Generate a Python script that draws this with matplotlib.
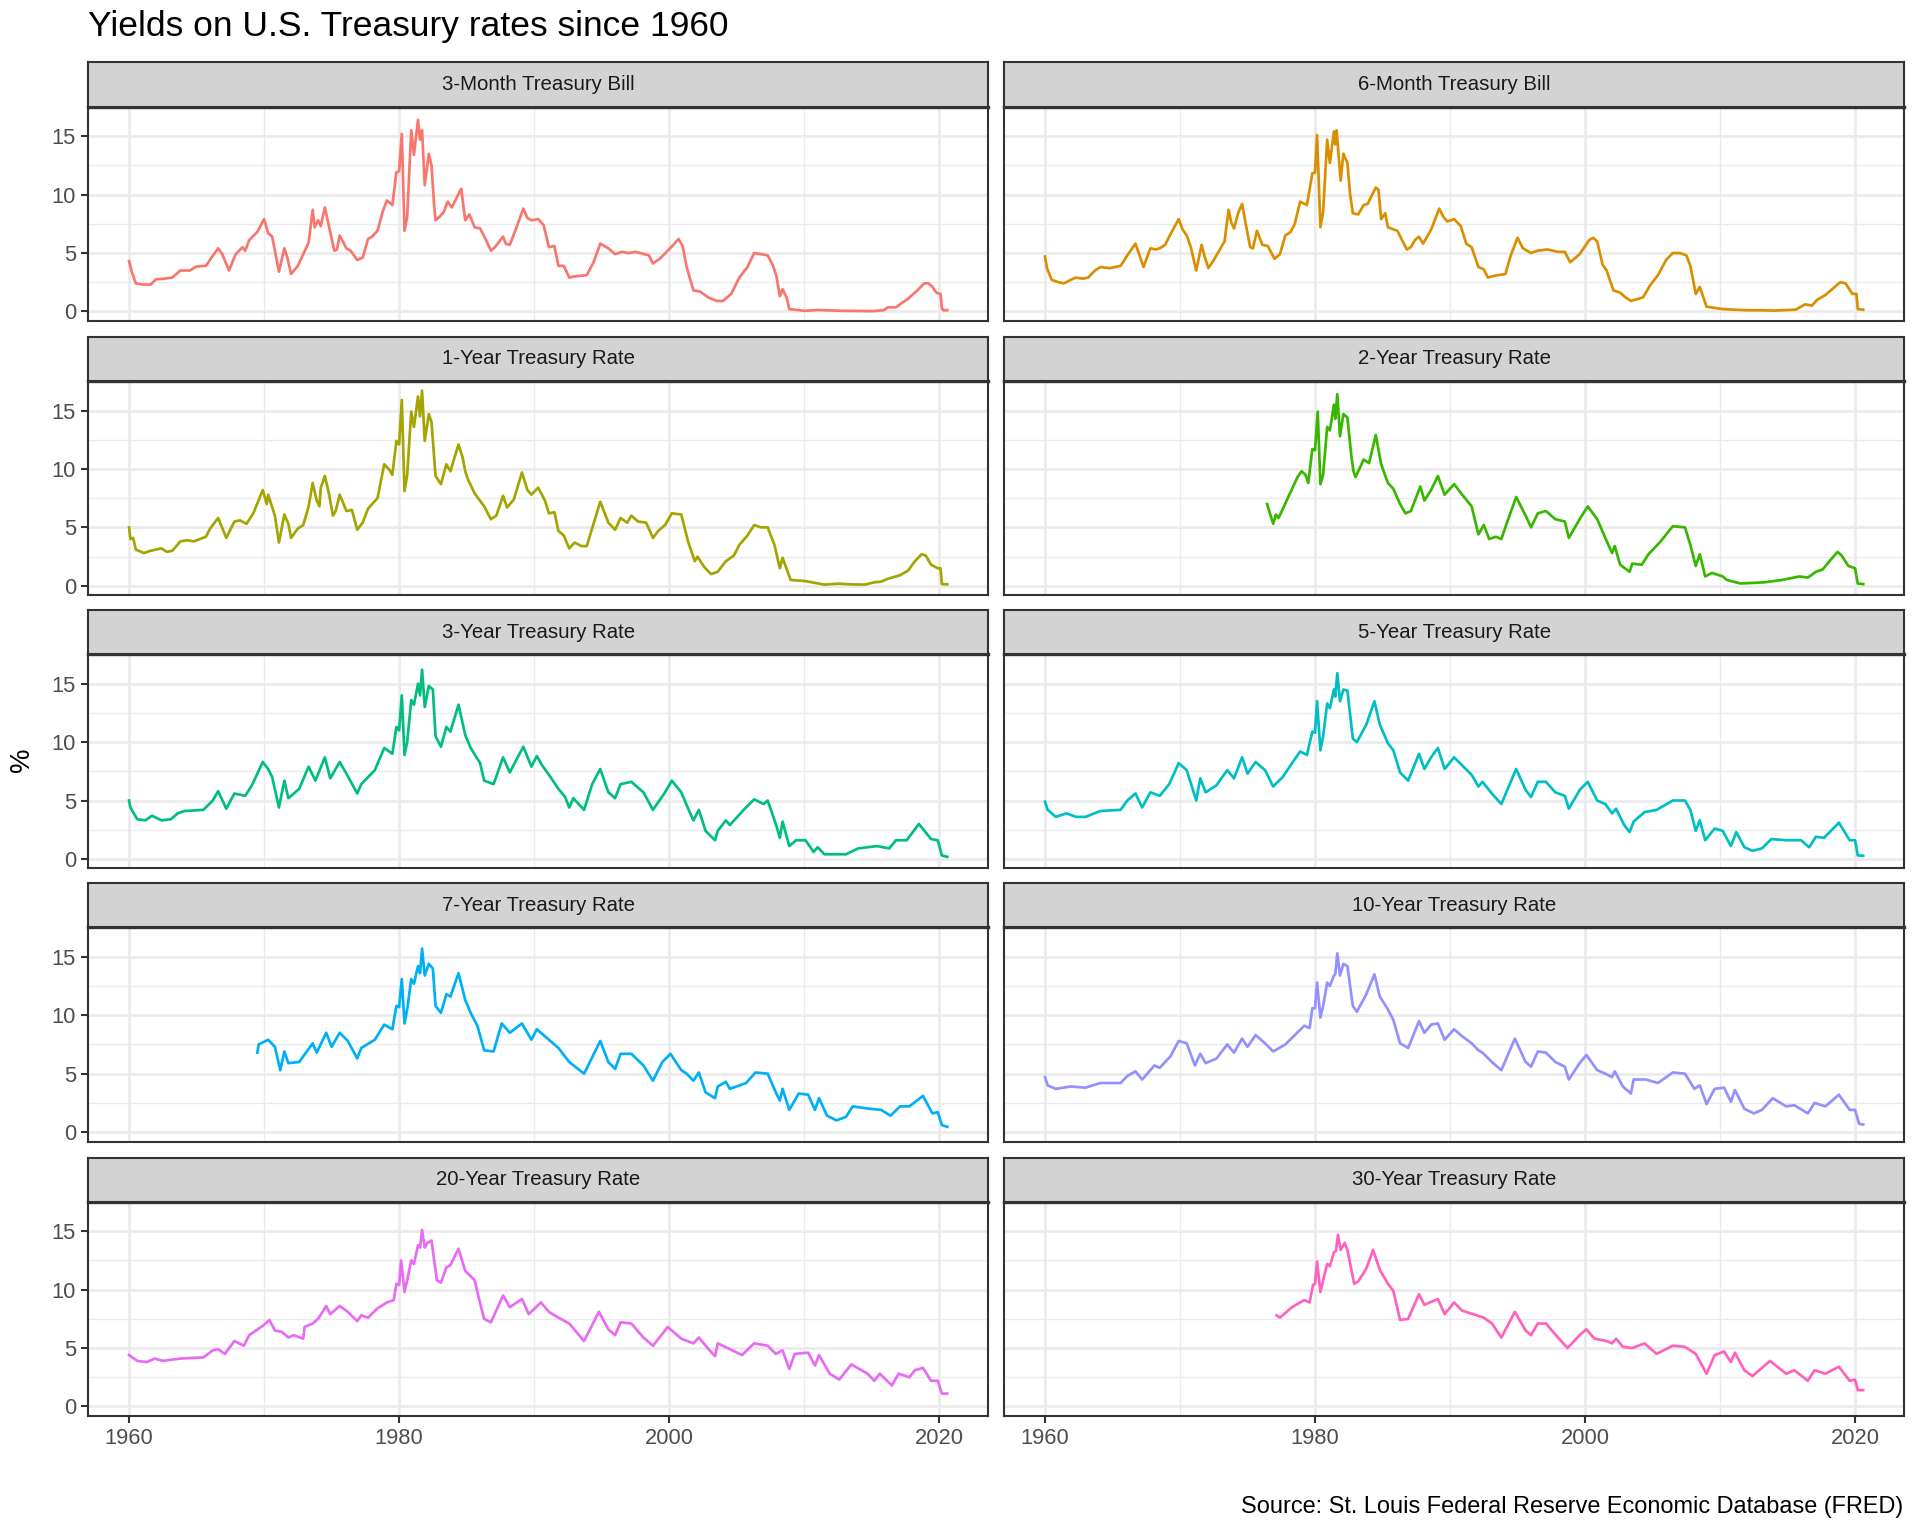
import matplotlib
matplotlib.use("Agg")
import matplotlib.pyplot as plt

plt.rcParams['font.family'] = ['Liberation Sans', 'DejaVu Sans']

# (decimal year, yield %), mostly at turning points
bill_3m = [(1960.0, 4.3), (1960.2, 3.4), (1960.5, 2.4), (1961.0, 2.3), (1961.6, 2.3), (1962.0, 2.75),
           (1962.6, 2.8), (1963.2, 2.9), (1963.8, 3.5), (1964.5, 3.5), (1965.0, 3.85), (1965.7, 3.9),
           (1966.1, 4.6), (1966.6, 5.4), (1966.9, 4.9), (1967.4, 3.5), (1967.9, 4.9), (1968.4, 5.5),
           (1968.6, 5.2), (1968.9, 6.1), (1969.5, 6.8), (1970.0, 7.9), (1970.3, 6.7), (1970.6, 6.4),
           (1971.1, 3.4), (1971.5, 5.4), (1971.7, 4.7), (1972.0, 3.2), (1972.5, 3.9), (1972.9, 4.9),
           (1973.3, 5.9), (1973.6, 8.7), (1973.75, 7.2), (1974.0, 7.8), (1974.2, 7.3), (1974.5, 8.9),
           (1974.8, 7.3), (1975.2, 5.2), (1975.4, 5.3), (1975.6, 6.5), (1976.1, 5.4), (1976.4, 5.2),
           (1976.9, 4.4), (1977.3, 4.6), (1977.7, 6.2), (1978.0, 6.4), (1978.4, 6.9), (1978.8, 8.6),
           (1979.1, 9.5), (1979.5, 9.1), (1979.8, 11.9), (1980.0, 12.0), (1980.2, 15.2), (1980.4, 6.9),
           (1980.6, 8.1), (1980.9, 15.5), (1981.1, 13.4), (1981.4, 16.4), (1981.55, 14.7), (1981.7, 15.5),
           (1981.9, 10.8), (1982.2, 13.5), (1982.4, 12.5), (1982.6, 9.0), (1982.7, 7.8), (1983.0, 8.1),
           (1983.3, 8.5), (1983.6, 9.4), (1983.9, 8.9), (1984.2, 9.6), (1984.6, 10.5), (1984.9, 7.8),
           (1985.2, 8.3), (1985.6, 7.2), (1986.0, 7.1), (1986.4, 6.2), (1986.8, 5.2), (1987.1, 5.5),
           (1987.7, 6.4), (1987.9, 5.8), (1988.2, 5.7), (1988.7, 7.2), (1989.2, 8.8), (1989.5, 8.0),
           (1989.8, 7.8), (1990.3, 7.9), (1990.7, 7.4), (1991.1, 5.5), (1991.5, 5.6), (1991.8, 3.9),
           (1992.2, 3.9), (1992.6, 2.9), (1993.0, 3.0), (1993.9, 3.1), (1994.4, 4.2), (1994.9, 5.8),
           (1995.5, 5.4), (1996.0, 4.9), (1996.5, 5.1), (1997.0, 5.0), (1997.5, 5.1), (1998.5, 4.8),
           (1998.8, 4.1), (1999.3, 4.5), (1999.9, 5.2), (2000.4, 5.8), (2000.7, 6.2), (2001.0, 5.6),
           (2001.3, 3.8), (2001.8, 1.8), (2002.3, 1.7), (2002.9, 1.2), (2003.5, 0.9), (2004.0, 0.9),
           (2004.6, 1.5), (2005.2, 2.9), (2005.8, 3.8), (2006.3, 5.0), (2006.8, 4.9), (2007.3, 4.8),
           (2007.7, 3.9), (2007.95, 3.0), (2008.2, 1.3), (2008.4, 1.9), (2008.7, 1.2), (2008.9, 0.2),
           (2009.3, 0.15), (2010.0, 0.05), (2011.0, 0.12), (2012.0, 0.08), (2013.0, 0.05), (2014.0, 0.04),
           (2015.0, 0.02), (2015.9, 0.1), (2016.2, 0.35), (2016.8, 0.35), (2017.2, 0.7), (2017.6, 1.0),
           (2017.9, 1.3), (2018.3, 1.7), (2018.9, 2.4), (2019.2, 2.4), (2019.5, 2.1), (2019.8, 1.6),
           (2020.1, 1.5), (2020.2, 0.3), (2020.3, 0.1), (2020.6, 0.1)]

bill_6m = [(1960.0, 4.7), (1960.15, 3.7), (1960.5, 2.7), (1961.0, 2.5), (1961.4, 2.4), (1961.9, 2.7),
           (1962.3, 2.9), (1962.8, 2.8), (1963.2, 2.9), (1963.7, 3.5), (1964.1, 3.8), (1964.8, 3.7),
           (1965.6, 3.9), (1966.1, 4.8), (1966.7, 5.8), (1967.3, 3.8), (1967.8, 5.4), (1968.2, 5.3),
           (1968.5, 5.4), (1968.9, 5.7), (1969.2, 6.4), (1969.9, 7.9), (1970.2, 7.0), (1970.5, 6.5),
           (1970.8, 5.5), (1971.2, 3.5), (1971.6, 5.7), (1971.8, 4.8), (1972.1, 3.7), (1972.5, 4.4),
           (1972.9, 5.2), (1973.3, 6.0), (1973.6, 8.7), (1973.8, 7.6), (1974.0, 7.1), (1974.3, 8.4),
           (1974.6, 9.2), (1974.9, 7.3), (1975.2, 5.5), (1975.4, 5.4), (1975.7, 6.9), (1976.1, 5.7),
           (1976.5, 5.6), (1977.0, 4.5), (1977.4, 4.9), (1977.8, 6.5), (1978.2, 6.8), (1978.5, 7.5),
           (1978.9, 9.4), (1979.4, 9.1), (1979.8, 11.8), (1980.0, 11.9), (1980.15, 15.1), (1980.4, 7.2),
           (1980.6, 8.5), (1980.9, 14.7), (1981.1, 12.7), (1981.4, 15.4), (1981.5, 14.3), (1981.6, 15.5),
           (1981.9, 11.2), (1982.1, 13.5), (1982.4, 12.7), (1982.6, 10.0), (1982.8, 8.4), (1983.2, 8.3),
           (1983.6, 9.1), (1983.9, 9.2), (1984.5, 10.6), (1984.7, 10.4), (1984.9, 7.9), (1985.2, 8.4),
           (1985.4, 7.2), (1986.1, 6.9), (1986.8, 5.3), (1987.1, 5.5), (1987.4, 6.1), (1987.7, 6.4),
           (1988.0, 5.8), (1988.6, 7.0), (1989.2, 8.8), (1989.5, 8.1), (1989.8, 7.7), (1990.3, 7.9),
           (1990.8, 7.3), (1991.2, 5.8), (1991.6, 5.5), (1992.1, 3.8), (1992.5, 3.6), (1992.8, 2.9),
           (1993.5, 3.1), (1994.1, 3.2), (1994.5, 4.8), (1995.0, 6.3), (1995.4, 5.4), (1996.0, 5.0),
           (1996.5, 5.2), (1997.2, 5.3), (1998.0, 5.1), (1998.5, 5.1), (1998.9, 4.2), (1999.6, 4.9),
           (2000.3, 6.1), (2000.6, 6.3), (2000.9, 6.0), (2001.3, 4.0), (2001.6, 3.5), (2002.1, 1.8),
           (2002.6, 1.6), (2003.0, 1.2), (2003.4, 0.9), (2004.3, 1.2), (2004.8, 2.2), (2005.4, 3.1),
           (2006.0, 4.4), (2006.5, 5.0), (2007.0, 5.0), (2007.5, 4.8), (2007.8, 3.9), (2008.2, 1.5),
           (2008.5, 2.1), (2009.0, 0.4), (2010.2, 0.2), (2011.0, 0.15), (2012.0, 0.1), (2013.0, 0.1),
           (2014.0, 0.07), (2015.6, 0.15), (2016.3, 0.6), (2016.8, 0.5), (2017.2, 1.0), (2017.8, 1.4),
           (2018.3, 1.9), (2018.9, 2.5), (2019.3, 2.4), (2019.8, 1.5), (2020.1, 1.5), (2020.2, 0.2),
           (2020.6, 0.15)]

rate_1y = [(1960.0, 5.0), (1960.1, 4.0), (1960.3, 4.1), (1960.5, 3.1), (1961.1, 2.8), (1961.6, 3.0),
           (1962.0, 3.1), (1962.4, 3.2), (1962.8, 2.9), (1963.2, 3.0), (1963.8, 3.8), (1964.3, 3.9),
           (1964.8, 3.8), (1965.7, 4.2), (1966.0, 4.9), (1966.6, 5.8), (1967.2, 4.1), (1967.8, 5.5),
           (1968.2, 5.6), (1968.7, 5.3), (1969.2, 6.2), (1969.9, 8.2), (1970.2, 7.0), (1970.3, 7.8),
           (1970.8, 6.0), (1971.1, 3.7), (1971.5, 6.1), (1971.8, 5.3), (1972.0, 4.1), (1972.5, 4.9),
           (1972.9, 5.2), (1973.3, 6.8), (1973.6, 8.8), (1973.9, 7.3), (1974.1, 6.8), (1974.2, 8.4),
           (1974.5, 9.4), (1974.8, 7.9), (1975.1, 6.0), (1975.3, 6.4), (1975.6, 7.8), (1976.1, 6.4),
           (1976.5, 6.5), (1976.9, 4.8), (1977.3, 5.4), (1977.7, 6.6), (1978.4, 7.5), (1978.9, 10.4),
           (1979.3, 9.9), (1979.5, 9.5), (1979.8, 12.4), (1980.0, 12.1), (1980.2, 15.9), (1980.4, 8.1),
           (1980.6, 9.5), (1980.9, 14.9), (1981.1, 13.6), (1981.4, 16.2), (1981.55, 14.5), (1981.7, 16.7),
           (1981.9, 12.4), (1982.2, 14.7), (1982.4, 14.0), (1982.7, 9.4), (1983.1, 8.7), (1983.5, 10.4),
           (1983.8, 9.8), (1984.4, 12.1), (1984.7, 11.0), (1984.9, 9.8), (1985.1, 9.1), (1985.6, 7.9),
           (1986.3, 6.8), (1986.8, 5.7), (1987.2, 6.0), (1987.7, 7.7), (1988.0, 6.7), (1988.5, 7.4),
           (1989.1, 9.7), (1989.5, 8.2), (1989.8, 7.8), (1990.3, 8.4), (1990.8, 7.3), (1991.1, 6.2),
           (1991.5, 6.3), (1991.8, 4.7), (1992.2, 4.3), (1992.6, 3.2), (1993.0, 3.7), (1993.5, 3.4),
           (1993.9, 3.4), (1994.4, 5.3), (1994.9, 7.2), (1995.5, 5.4), (1996.0, 4.8), (1996.4, 5.8),
           (1996.9, 5.4), (1997.2, 6.0), (1997.7, 5.5), (1998.3, 5.4), (1998.8, 4.1), (1999.2, 4.7),
           (1999.7, 5.2), (2000.2, 6.2), (2000.9, 6.1), (2001.4, 3.8), (2001.9, 2.1), (2002.1, 2.5),
           (2002.6, 1.6), (2003.1, 1.0), (2003.6, 1.2), (2004.2, 2.1), (2004.8, 2.6), (2005.2, 3.5),
           (2005.8, 4.3), (2006.3, 5.2), (2006.8, 5.0), (2007.3, 5.0), (2007.8, 3.5), (2008.2, 1.5),
           (2008.4, 2.4), (2009.0, 0.5), (2010.1, 0.4), (2010.8, 0.25), (2011.5, 0.1), (2012.5, 0.18),
           (2013.5, 0.12), (2014.5, 0.1), (2015.2, 0.3), (2015.7, 0.35), (2016.2, 0.6), (2017.1, 0.9),
           (2017.7, 1.3), (2018.2, 2.1), (2018.7, 2.7), (2019.0, 2.6), (2019.4, 1.8), (2019.9, 1.5),
           (2020.1, 1.5), (2020.2, 0.15), (2020.6, 0.12)]

rate_2y = [(1976.45, 7.0), (1976.9, 5.3), (1977.1, 6.1), (1977.3, 5.8), (1977.9, 7.3), (1978.3, 8.3),
           (1978.7, 9.3), (1979.0, 9.8), (1979.3, 9.5), (1979.5, 8.8), (1979.8, 11.7), (1980.0, 11.6),
           (1980.2, 14.9), (1980.4, 8.7), (1980.6, 9.5), (1980.9, 13.6), (1981.1, 13.3), (1981.4, 15.5),
           (1981.5, 14.3), (1981.65, 16.4), (1981.85, 12.8), (1982.1, 14.7), (1982.4, 14.4), (1982.7, 11.0),
           (1982.85, 9.8), (1983.0, 9.3), (1983.6, 10.8), (1984.0, 10.5), (1984.5, 12.9), (1984.9, 10.4),
           (1985.4, 8.8), (1985.8, 8.3), (1986.3, 7.0), (1986.7, 6.2), (1987.1, 6.4), (1987.8, 8.5),
           (1988.1, 7.3), (1988.6, 8.2), (1989.1, 9.4), (1989.6, 7.8), (1990.3, 8.7), (1990.9, 7.8),
           (1991.6, 6.8), (1992.1, 4.4), (1992.5, 5.2), (1992.9, 4.0), (1993.4, 4.2), (1993.8, 4.0),
           (1994.4, 6.0), (1994.9, 7.6), (1995.6, 6.0), (1996.0, 5.0), (1996.5, 6.2), (1997.1, 6.4),
           (1997.8, 5.7), (1998.5, 5.5), (1998.8, 4.1), (1999.2, 4.9), (1999.6, 5.7), (2000.2, 6.8),
           (2000.9, 5.7), (2001.5, 4.1), (2002.0, 2.8), (2002.2, 3.4), (2002.6, 1.8), (2003.3, 1.2),
           (2003.5, 1.9), (2004.2, 1.8), (2004.7, 2.7), (2005.6, 3.8), (2006.5, 5.1), (2007.4, 5.0),
           (2007.8, 3.5), (2008.2, 1.7), (2008.5, 2.7), (2008.9, 0.8), (2009.4, 1.1), (2010.2, 0.8),
           (2010.5, 0.5), (2011.5, 0.2), (2012.5, 0.25), (2013.3, 0.3), (2014.6, 0.5), (2015.9, 0.8),
           (2016.5, 0.7), (2017.1, 1.2), (2017.6, 1.4), (2018.1, 2.1), (2018.7, 2.9), (2019.0, 2.6),
           (2019.5, 1.7), (2020.0, 1.5), (2020.2, 0.2), (2020.6, 0.14)]

rate_3y = [(1960.0, 5.0), (1960.1, 4.4), (1960.6, 3.4), (1961.2, 3.3), (1961.7, 3.7), (1962.4, 3.3),
           (1963.1, 3.4), (1963.6, 3.9), (1964.1, 4.1), (1965.5, 4.2), (1966.2, 5.0), (1966.6, 5.8),
           (1967.2, 4.3), (1967.8, 5.6), (1968.6, 5.4), (1969.1, 6.3), (1969.9, 8.3), (1970.3, 7.7),
           (1970.6, 7.0), (1971.1, 4.4), (1971.5, 6.7), (1971.8, 5.2), (1972.6, 6.0), (1973.3, 7.9),
           (1973.8, 6.7), (1974.5, 8.7), (1974.9, 6.9), (1975.6, 8.3), (1976.1, 7.3), (1976.9, 5.6),
           (1977.2, 6.4), (1978.2, 7.6), (1978.9, 9.5), (1979.5, 9.0), (1979.8, 11.3), (1980.0, 11.0),
           (1980.2, 14.0), (1980.4, 8.9), (1980.6, 10.0), (1980.9, 13.6), (1981.1, 13.2), (1981.4, 15.0),
           (1981.55, 14.0), (1981.7, 16.2), (1981.9, 13.0), (1982.2, 14.8), (1982.5, 14.5), (1982.7, 10.5),
           (1983.1, 9.6), (1983.5, 11.3), (1983.8, 10.9), (1984.4, 13.2), (1984.9, 10.6), (1985.3, 9.5),
           (1986.0, 8.2), (1986.3, 6.7), (1987.0, 6.4), (1987.7, 8.7), (1988.2, 7.4), (1988.6, 8.3),
           (1989.2, 9.6), (1989.8, 7.9), (1990.2, 8.8), (1990.6, 8.0), (1991.1, 7.2), (1991.8, 6.0),
           (1992.3, 5.3), (1992.6, 4.4), (1992.9, 5.2), (1993.7, 4.2), (1994.3, 6.4), (1994.9, 7.7),
           (1995.5, 5.7), (1996.0, 5.2), (1996.4, 6.4), (1997.2, 6.6), (1998.1, 5.7), (1998.8, 4.2),
           (1999.7, 5.7), (2000.2, 6.7), (2000.9, 5.7), (2001.3, 4.6), (2001.8, 3.3), (2002.2, 4.2),
           (2002.7, 2.4), (2003.4, 1.6), (2003.6, 2.4), (2004.2, 3.3), (2004.5, 2.9), (2005.6, 4.3),
           (2006.3, 5.1), (2007.0, 4.7), (2007.3, 5.0), (2007.9, 3.0), (2008.2, 1.8), (2008.4, 3.2),
           (2008.9, 1.1), (2009.4, 1.6), (2010.1, 1.6), (2010.7, 0.6), (2011.0, 1.0), (2011.5, 0.4),
           (2013.1, 0.4), (2014.0, 0.9), (2015.4, 1.1), (2016.3, 0.9), (2016.8, 1.6), (2017.6, 1.6),
           (2018.5, 3.0), (2019.4, 1.7), (2019.9, 1.6), (2020.2, 0.3), (2020.6, 0.18)]

rate_5y = [(1960.0, 4.9), (1960.2, 4.2), (1960.8, 3.6), (1961.6, 3.9), (1962.3, 3.6), (1963.0, 3.6),
           (1964.1, 4.1), (1965.6, 4.2), (1966.1, 5.0), (1966.7, 5.6), (1967.2, 4.4), (1967.8, 5.7),
           (1968.5, 5.4), (1969.2, 6.4), (1969.9, 8.2), (1970.5, 7.6), (1971.2, 5.0), (1971.5, 6.9),
           (1971.9, 5.7), (1972.7, 6.3), (1973.5, 7.6), (1974.0, 6.9), (1974.6, 8.7), (1975.0, 7.3),
           (1975.6, 8.3), (1976.3, 7.6), (1976.9, 6.2), (1977.6, 7.0), (1978.3, 8.2), (1978.9, 9.2),
           (1979.4, 8.9), (1979.8, 10.9), (1980.0, 10.8), (1980.15, 13.5), (1980.4, 9.3), (1980.6, 10.5),
           (1980.9, 13.3), (1981.1, 12.9), (1981.4, 14.5), (1981.5, 13.9), (1981.65, 15.9), (1981.85, 13.5),
           (1982.1, 14.5), (1982.4, 14.4), (1982.8, 10.3), (1983.1, 10.0), (1983.8, 11.5), (1984.4, 13.5),
           (1984.8, 11.5), (1985.4, 9.9), (1985.8, 9.3), (1986.3, 7.4), (1986.9, 6.7), (1987.7, 9.0),
           (1988.1, 7.7), (1988.6, 8.7), (1989.1, 9.5), (1989.6, 7.7), (1990.3, 8.7), (1990.9, 8.0),
           (1991.6, 7.2), (1992.1, 6.2), (1992.4, 6.6), (1993.1, 5.6), (1993.8, 4.7), (1994.9, 7.7),
           (1995.6, 5.9), (1996.0, 5.3), (1996.5, 6.6), (1997.1, 6.6), (1997.8, 5.7), (1998.5, 5.4),
           (1998.8, 4.3), (1999.6, 5.9), (2000.2, 6.6), (2000.9, 5.0), (2001.5, 4.7), (2002.0, 3.9),
           (2002.3, 4.3), (2002.9, 2.9), (2003.3, 2.3), (2003.6, 3.2), (2004.4, 4.0), (2005.3, 4.2),
           (2006.5, 5.0), (2007.4, 5.0), (2007.8, 4.2), (2008.2, 2.4), (2008.5, 3.3), (2008.9, 1.6),
           (2009.6, 2.6), (2010.2, 2.4), (2010.8, 1.1), (2011.2, 2.3), (2011.8, 1.0), (2012.4, 0.7),
           (2013.1, 0.9), (2013.8, 1.7), (2014.9, 1.6), (2016.0, 1.6), (2016.6, 1.0), (2017.1, 1.9),
           (2017.7, 1.8), (2018.8, 3.1), (2019.6, 1.6), (2020.0, 1.6), (2020.2, 0.3), (2020.6, 0.28)]

rate_7y = [(1969.5, 6.8), (1969.6, 7.5), (1970.3, 7.9), (1970.8, 7.3), (1971.2, 5.3), (1971.5, 6.9),
           (1971.8, 5.9), (1972.6, 6.0), (1973.6, 7.6), (1973.9, 6.8), (1974.6, 8.5), (1975.0, 7.3),
           (1975.6, 8.5), (1976.2, 7.8), (1976.9, 6.3), (1977.2, 7.2), (1978.2, 7.9), (1978.9, 9.2),
           (1979.5, 8.8), (1979.8, 10.8), (1980.0, 10.7), (1980.2, 13.1), (1980.4, 9.3), (1980.6, 10.5),
           (1980.9, 13.1), (1981.1, 12.7), (1981.4, 14.2), (1981.55, 13.6), (1981.7, 15.7), (1981.9, 13.4),
           (1982.2, 14.4), (1982.5, 14.0), (1982.7, 10.8), (1983.1, 10.2), (1983.5, 11.8), (1983.8, 11.6),
           (1984.4, 13.6), (1984.9, 11.3), (1985.3, 10.2), (1985.8, 9.1), (1986.3, 7.0), (1987.0, 6.9),
           (1987.6, 9.3), (1988.2, 8.5), (1989.1, 9.3), (1989.8, 7.9), (1990.2, 8.8), (1991.1, 7.9),
           (1991.8, 7.2), (1992.6, 6.0), (1993.7, 5.0), (1994.9, 7.8), (1995.5, 6.0), (1996.0, 5.4),
           (1996.4, 6.7), (1997.2, 6.7), (1998.1, 5.7), (1998.8, 4.4), (1999.5, 6.0), (2000.1, 6.7),
           (2000.9, 5.3), (2001.3, 5.0), (2001.8, 4.4), (2002.2, 5.1), (2002.7, 3.4), (2003.4, 2.9),
           (2003.6, 3.9), (2004.2, 4.3), (2004.5, 3.7), (2005.7, 4.2), (2006.4, 5.1), (2007.3, 5.0),
           (2007.9, 3.4), (2008.2, 2.7), (2008.4, 3.7), (2008.9, 1.9), (2009.6, 3.3), (2010.3, 3.2),
           (2010.8, 1.9), (2011.1, 2.9), (2011.7, 1.4), (2012.4, 1.0), (2013.1, 1.3), (2013.6, 2.2),
           (2014.8, 2.0), (2015.7, 1.9), (2016.4, 1.4), (2017.1, 2.2), (2017.8, 2.2), (2018.8, 3.1),
           (2019.5, 1.6), (2019.9, 1.7), (2020.2, 0.6), (2020.6, 0.45)]

rate_10y = [(1960.0, 4.7), (1960.2, 4.0), (1960.8, 3.7), (1961.9, 3.9), (1963.0, 3.8), (1964.1, 4.2),
            (1965.6, 4.2), (1966.1, 4.8), (1966.7, 5.2), (1967.2, 4.5), (1968.1, 5.7), (1968.5, 5.5),
            (1969.3, 6.5), (1969.9, 7.8), (1970.5, 7.6), (1971.1, 5.7), (1971.5, 6.7), (1971.9, 5.9),
            (1972.7, 6.3), (1973.5, 7.5), (1974.0, 6.8), (1974.6, 8.0), (1975.0, 7.3), (1975.6, 8.3),
            (1976.3, 7.6), (1976.9, 6.9), (1977.8, 7.5), (1978.5, 8.3), (1979.2, 9.1), (1979.6, 8.9),
            (1979.8, 10.6), (1980.0, 10.6), (1980.15, 12.8), (1980.4, 9.8), (1980.6, 10.8), (1980.9, 12.8),
            (1981.1, 12.5), (1981.4, 13.4), (1981.5, 13.5), (1981.65, 15.3), (1981.85, 13.4), (1982.1, 14.4),
            (1982.4, 14.2), (1982.8, 10.8), (1983.1, 10.3), (1983.8, 11.8), (1984.4, 13.5), (1984.8, 11.6),
            (1985.4, 10.5), (1985.8, 9.6), (1986.3, 7.6), (1986.9, 7.2), (1987.7, 9.5), (1988.1, 8.5),
            (1988.6, 9.2), (1989.1, 9.3), (1989.6, 7.9), (1990.3, 8.8), (1990.9, 8.2), (1991.6, 7.6),
            (1992.1, 7.0), (1992.4, 6.8), (1993.1, 6.0), (1993.8, 5.3), (1994.8, 8.0), (1995.6, 6.0),
            (1996.0, 5.6), (1996.5, 6.9), (1997.1, 6.8), (1997.8, 6.0), (1998.5, 5.6), (1998.8, 4.5),
            (1999.6, 5.9), (2000.1, 6.6), (2000.9, 5.3), (2001.5, 5.0), (2002.0, 4.7), (2002.2, 5.2),
            (2002.8, 3.9), (2003.4, 3.3), (2003.6, 4.5), (2004.5, 4.5), (2005.4, 4.2), (2006.5, 5.1),
            (2007.4, 5.0), (2008.1, 3.7), (2008.5, 4.0), (2009.0, 2.4), (2009.6, 3.7), (2010.3, 3.8),
            (2010.8, 2.6), (2011.1, 3.6), (2011.8, 2.0), (2012.5, 1.6), (2013.1, 1.9), (2013.9, 2.9),
            (2014.9, 2.2), (2015.5, 2.3), (2016.5, 1.6), (2017.0, 2.5), (2017.8, 2.2), (2018.8, 3.2),
            (2019.6, 1.9), (2020.0, 1.9), (2020.3, 0.7), (2020.6, 0.65)]

rate_20y = [(1960.0, 4.4), (1960.6, 3.9), (1961.3, 3.8), (1961.9, 4.1), (1962.5, 3.9), (1963.8, 4.1),
            (1965.5, 4.2), (1966.2, 4.8), (1966.6, 4.9), (1967.1, 4.5), (1967.8, 5.6), (1968.5, 5.2),
            (1968.9, 6.1), (1969.9, 6.9), (1970.4, 7.4), (1970.8, 6.5), (1971.3, 6.4), (1971.8, 5.9),
            (1972.2, 6.1), (1972.9, 5.8), (1973.0, 6.8), (1973.6, 7.1), (1974.0, 7.5), (1974.6, 8.6),
            (1974.9, 7.9), (1975.6, 8.6), (1976.2, 8.1), (1976.9, 7.3), (1977.2, 7.8), (1977.7, 7.6),
            (1978.4, 8.4), (1979.1, 8.9), (1979.6, 9.1), (1979.8, 10.5), (1980.0, 10.4), (1980.15, 12.5),
            (1980.4, 9.8), (1980.6, 10.8), (1980.9, 12.5), (1981.1, 12.2), (1981.4, 13.8), (1981.55, 13.6),
            (1981.7, 15.1), (1981.9, 13.6), (1982.1, 14.0), (1982.4, 14.2), (1982.8, 10.8), (1983.1, 10.6),
            (1983.5, 11.9), (1983.8, 12.1), (1984.4, 13.5), (1984.9, 11.6), (1985.6, 10.8), (1985.9, 9.3),
            (1986.3, 7.5), (1986.8, 7.2), (1987.7, 9.5), (1988.2, 8.5), (1989.1, 9.2), (1989.6, 7.9),
            (1990.5, 8.9), (1991.1, 8.1), (1991.8, 7.6), (1992.6, 7.1), (1993.7, 5.6), (1994.8, 8.1),
            (1995.5, 6.6), (1996.0, 6.1), (1996.4, 7.2), (1997.2, 7.1), (1998.1, 5.9), (1998.8, 5.2),
            (1999.9, 6.8), (2000.9, 5.8), (2001.8, 5.4), (2002.2, 5.9), (2003.0, 4.8), (2003.4, 4.3),
            (2003.6, 5.4), (2004.5, 4.9), (2005.4, 4.4), (2006.3, 5.4), (2007.3, 5.2), (2007.9, 4.5),
            (2008.4, 4.8), (2008.9, 3.2), (2009.3, 4.5), (2010.3, 4.6), (2010.8, 3.5), (2011.1, 4.4),
            (2011.9, 2.8), (2012.6, 2.3), (2013.5, 3.6), (2014.7, 2.8), (2015.2, 2.2), (2015.6, 2.8),
            (2016.5, 1.8), (2017.0, 2.8), (2017.8, 2.5), (2018.2, 3.1), (2018.8, 3.3), (2019.4, 2.2),
            (2019.9, 2.2), (2020.2, 1.1), (2020.6, 1.1)]

rate_30y = [(1977.15, 7.8), (1977.4, 7.6), (1978.3, 8.5), (1979.2, 9.1), (1979.6, 8.9), (1979.85, 10.4),
            (1980.0, 10.5), (1980.15, 12.4), (1980.4, 9.8), (1980.6, 10.8), (1980.9, 12.2), (1981.1, 12.0),
            (1981.4, 13.2), (1981.55, 13.3), (1981.7, 14.7), (1981.9, 13.4), (1982.2, 14.0), (1982.4, 13.4),
            (1982.9, 10.5), (1983.2, 10.7), (1983.8, 11.8), (1984.3, 13.4), (1984.8, 11.7), (1985.4, 10.5),
            (1985.8, 9.9), (1986.3, 7.4), (1986.9, 7.5), (1987.7, 9.6), (1988.1, 8.7), (1989.1, 9.2),
            (1989.6, 7.9), (1990.3, 8.9), (1990.9, 8.2), (1991.7, 7.9), (1992.5, 7.6), (1993.1, 7.1),
            (1993.8, 5.9), (1994.8, 8.1), (1995.6, 6.5), (1996.0, 6.1), (1996.5, 7.1), (1997.1, 7.1),
            (1998.0, 5.9), (1998.7, 5.0), (1999.6, 6.1), (2000.1, 6.6), (2000.7, 5.8), (2001.6, 5.6),
            (2002.0, 5.4), (2002.3, 5.8), (2002.8, 5.1), (2003.5, 5.0), (2004.4, 5.4), (2005.3, 4.5),
            (2006.5, 5.2), (2007.4, 5.1), (2008.2, 4.5), (2009.0, 2.8), (2009.6, 4.4), (2010.3, 4.7),
            (2010.8, 3.8), (2011.1, 4.6), (2011.8, 3.1), (2012.4, 2.6), (2013.7, 3.9), (2014.9, 2.8),
            (2015.5, 3.1), (2016.5, 2.2), (2017.0, 3.1), (2017.8, 2.8), (2018.8, 3.4), (2019.6, 2.2),
            (2020.0, 2.3), (2020.2, 1.4), (2020.6, 1.4)]

titles = ["3-Month Treasury Bill", "6-Month Treasury Bill", "1-Year Treasury Rate", "2-Year Treasury Rate",
          "3-Year Treasury Rate", "5-Year Treasury Rate", "7-Year Treasury Rate", "10-Year Treasury Rate",
          "20-Year Treasury Rate", "30-Year Treasury Rate"]
series = [bill_3m, bill_6m, rate_1y, rate_2y, rate_3y, rate_5y, rate_7y, rate_10y, rate_20y, rate_30y]
colors = ["#F8766D", "#D89000", "#A3A500", "#39B600", "#00BF7D",
          "#00BFC4", "#00B0F6", "#9590FF", "#E76BF3", "#FF62BC"]

# layout, measured on a 1568 x 1254 view of the reference
W, H = 1568.0, 1254.0
col_left = [72, 820]
panel_w = 735
row_top = [87, 311, 534, 757, 981]
panel_h = 175
strip_h = 36

frame = "#333333"

all_x = [p[0] for s in series for p in s]
all_y = [p[1] for s in series for p in s]
xpad = 0.05 * (max(all_x) - min(all_x))
ypad = 0.05 * (max(all_y) - min(all_y))
xlim = (min(all_x) - xpad, max(all_x) + xpad)
ylim = (min(all_y) - ypad, max(all_y) + ypad)

fig = plt.figure(figsize=(12.8, 10.24), dpi=150)

for i, (title, data, color) in enumerate(zip(titles, series, colors)):
    row, col = i // 2, i % 2
    x0 = col_left[col] / W
    ax = fig.add_axes([x0, 1 - (row_top[row] + panel_h) / H, panel_w / W, panel_h / H])
    xs = [p[0] for p in data]
    ys = [p[1] for p in data]
    ax.plot(xs, ys, color=color, lw=1.3)
    ax.set_xlim(*xlim)
    ax.set_ylim(*ylim)
    ax.set_xticks([1960, 1980, 2000, 2020])
    ax.set_xticks([1970, 1990, 2010], minor=True)
    ax.set_yticks([0, 5, 10, 15])
    ax.set_yticks([2.5, 7.5, 12.5], minor=True)
    ax.grid(which='major', color='#EBEBEB', lw=1.3)
    ax.grid(which='minor', color='#EBEBEB', lw=0.65)
    ax.set_axisbelow(True)
    ax.tick_params(which='minor', length=0)
    ax.tick_params(which='major', length=3.3, width=1.0, color=frame,
                   labelcolor='#4D4D4D', labelsize=10.5, pad=2.5)
    if row < 4:
        ax.tick_params(bottom=False, labelbottom=False)
    if col == 1:
        ax.tick_params(left=False, labelleft=False)
    for sp in ax.spines.values():
        sp.set_color(frame)
        sp.set_linewidth(1.0)
    ax.spines['top'].set_linewidth(1.6)

    sax = fig.add_axes([x0, 1 - row_top[row] / H, panel_w / W, strip_h / H])
    sax.set_facecolor('#D3D3D3')
    sax.set_xticks([])
    sax.set_yticks([])
    for sp in sax.spines.values():
        sp.set_color(frame)
        sp.set_linewidth(1.0)
    sax.text(0.5, 0.5, title, ha='center', va='center', fontsize=9.8, color='#1A1A1A')

fig.text(72 / W, 1 - 22 / H, "Yields on U.S. Treasury rates since 1960", ha='left', va='center',
         fontsize=17, color='black')
fig.text(1554 / W, 1 - 1230 / H, "Source: St. Louis Federal Reserve Economic Database (FRED)",
         ha='right', va='center', fontsize=11.3, color='black')
fig.text(18 / W, 1 - 620 / H, "%", rotation=90, ha='center', va='center', fontsize=13.2, color='black')

fig.savefig("out.png", dpi=150)
